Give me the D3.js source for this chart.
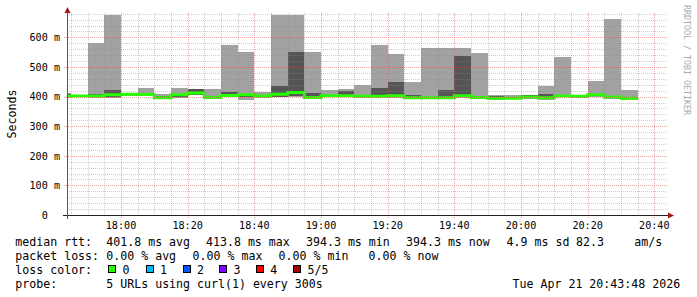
<!DOCTYPE html>
<html lang="en">
<head>
  <meta charset="UTF-8">
  <title>Smokeping median rtt</title>
  <script src="https://d3js.org/d3.v7.min.js"></script>
  <style>
    body { margin: 0; background: #fff; }
    text { font-family: "DejaVu Sans Mono", monospace; fill: #000; white-space: pre; }
  </style>
</head>
<body>
  <svg id="chart" width="697" height="297"></svg>

  <script>
    // 5 minute bins (start time) and the 5 sorted probe results, in ms
    const binStarts = ["17:40","17:45","17:50","17:55","18:00","18:05","18:10","18:15","18:20","18:25",
                       "18:30","18:35","18:40","18:45","18:50","18:55","19:00","19:05","19:10","19:15",
                       "19:20","19:25","19:30","19:35","19:40","19:45","19:50","19:55","20:00","20:05",
                       "20:10","20:15","20:20","20:25","20:30"];
    const medianMs = [401, 402, 402, 406, 408, 407, 396, 406, 412, 397.5, 404, 406, 402, 408, 413.8, 397, 402.5, 402.5, 401, 401,
                      402.5, 396, 396, 396, 402.5, 397, 394.3, 394.6, 398.6, 396, 402, 401, 406, 399, 394.3];
    const maxMs = [412, 405, 582, 676, 412, 429, 409, 429, 427, 426, 574, 551, 416, 676, 676, 551, 422, 426, 440, 574,
                   544, 449, 563, 563, 563, 547, 404, 405, 406, 436, 534, 403, 453, 662, 422];
    const highMs = [410, 404, 408, 422, 410, 409, 401, 408, 426, 400, 416, 408, 404, 436, 552, 413, 404, 418, 403, 429,
                    449, 406, 398, 422, 537, 399, 403, 397, 405, 409, 404, 403, 408, 401, 396];
    const lowMs = [398, 399, 399, 400, 405, 404, 394, 400, 407, 395, 400, 398, 399, 400, 402, 394, 399, 399, 398, 397,
                   398, 393, 393, 393, 397, 394, 392, 392, 395, 393, 399, 398, 402, 394, 392];
    const minMs = [396, 397, 395, 395, 403, 402, 392, 396, 404, 393, 397, 388, 396, 397, 398, 392, 397, 397, 396, 394,
                   396, 391, 391, 391, 394, 392, 390, 391, 393, 390, 397, 396, 400, 391, 390];

    const timeLabels = ["18:00","18:20","18:40","19:00","19:20","19:40","20:00","20:20","20:40"];
    const yLabels = [0, 100, 200, 300, 400, 500, 600];

    const rttStats = [["median rtt:", 16], ["401.8 ms avg", 107], ["413.8 ms max", 206.7], ["394.3 ms min", 306.7],
                      ["394.3 ms now", 406.7], ["4.9 ms sd", 507.3], ["82.3", 576.7], ["am/s", 635]];
    const lossStats = [["packet loss:", 16], ["0.00 % avg", 107], ["0.00 % max", 193.3], ["0.00 % min", 279.3], ["0.00 % now", 369.3]];
    const lossLabels = ["0", "1", "2", "3", "4", "5/5"];
    const lossColors = ["#26ff00", "#00b8ff", "#0059ff", "#7e00ff", "#ff0000", "#a10000"];
    const probeText = "5 URLs using curl(1) every 300s";
    const stampText = "Tue Apr 21 20:43:48 2026";

    const parseT = s => d3.timeParse("%Y-%m-%d %H:%M:%S")("2026-04-21 " + s + (s.length === 5 ? ":00" : ""));

    const plotL = 67, plotR = 667, plotT = 13, plotB = 215;
    const x = d3.scaleTime()
      .domain([parseT("17:43:48"), parseT("20:43:48")])
      .range([plotL, plotR]);
    const y = d3.scaleLinear()
      .domain([0, (plotB - plotT) / 0.296])
      .range([plotB, plotT]);

    const svg = d3.select("#chart");

    svg.append("defs").append("clipPath").attr("id", "plot")
      .append("rect").attr("x", plotL).attr("y", 0).attr("width", plotR - plotL).attr("height", plotB);

    const bins = binStarts.map((s, i) => {
      const t0 = parseT(s);
      return { t0: t0, t1: d3.timeMinute.offset(t0, 5), med: medianMs[i], max: maxMs[i],
               hi: highMs[i], lo: lowMs[i], min: minMs[i] };
    });

    const g = svg.append("g").attr("clip-path", "url(#plot)");

    // smoke: full range light, inner range dark
    g.selectAll("rect.outer").data(bins).join("rect")
      .attr("class", "outer")
      .attr("x", d => x(d.t0))
      .attr("width", d => x(d.t1) - x(d.t0))
      .attr("y", d => y(d.max))
      .attr("height", d => y(d.min) - y(d.max))
      .attr("fill", "#a2a2a2")
      .attr("shape-rendering", "crispEdges");

    g.selectAll("rect.inner").data(bins).join("rect")
      .attr("class", "inner")
      .attr("x", d => x(d.t0))
      .attr("width", d => x(d.t1) - x(d.t0))
      .attr("y", d => y(d.hi))
      .attr("height", d => y(d.lo) - y(d.hi))
      .attr("fill", "#555555")
      .attr("shape-rendering", "crispEdges");

    // median line
    const pts = bins.map(d => [d.t0, d.med]);
    pts.push([bins[bins.length - 1].t1, bins[bins.length - 1].med]);
    g.append("path")
      .datum(pts)
      .attr("fill", "none")
      .attr("stroke", lossColors[0])
      .attr("stroke-width", 3)
      .attr("d", d3.line().x(d => x(d[0])).y(d => y(d[1])).curve(d3.curveStepAfter));

    // grid on top
    const grid = svg.append("g").attr("stroke-dasharray", "1,1").attr("shape-rendering", "crispEdges");
    const minorY = d3.range(20, 681, 20).filter(v => v % 100 !== 0);
    grid.selectAll("line.hmin").data(minorY).join("line")
      .attr("class", "hmin")
      .attr("x1", plotL).attr("x2", plotR)
      .attr("y1", d => Math.round(y(d)) + 0.5).attr("y2", d => Math.round(y(d)) + 0.5)
      .attr("stroke", "rgba(143,143,143,0.45)");
    const minorX = d3.timeMinute.every(5).range(x.domain()[0], x.domain()[1])
      .filter(t => t.getMinutes() % 20 !== 0);
    grid.selectAll("line.vmin").data(minorX).join("line")
      .attr("class", "vmin")
      .attr("x1", d => Math.round(x(d)) + 0.5).attr("x2", d => Math.round(x(d)) + 0.5)
      .attr("y1", plotT).attr("y2", plotB + 2)
      .attr("stroke", "rgba(143,143,143,0.45)");
    grid.selectAll("line.hmaj").data(yLabels.slice(1)).join("line")
      .attr("class", "hmaj")
      .attr("x1", plotL - 3).attr("x2", plotR)
      .attr("y1", d => Math.round(y(d)) + 0.5).attr("y2", d => Math.round(y(d)) + 0.5)
      .attr("stroke", "rgba(222,80,80,0.5)");
    grid.selectAll("line.vmaj").data(timeLabels.map(parseT)).join("line")
      .attr("class", "vmaj")
      .attr("x1", d => Math.round(x(d)) + 0.5).attr("x2", d => Math.round(x(d)) + 0.5)
      .attr("y1", plotT).attr("y2", plotB + 3)
      .attr("stroke", "rgba(222,80,80,0.5)");

    // axes
    svg.append("line").attr("x1", plotL - 4).attr("x2", plotR + 2)
      .attr("y1", plotB + 0.5).attr("y2", plotB + 0.5).attr("stroke", "#222");
    svg.append("line").attr("x1", plotL + 0.5).attr("x2", plotL + 0.5)
      .attr("y1", plotB + 4).attr("y2", plotT - 2).attr("stroke", "#555");
    svg.append("path").attr("d", `M${plotR + 1},${plotB - 2.5}L${plotR + 7},${plotB + 0.5}L${plotR + 1},${plotB + 3.5}Z`)
      .attr("fill", "#a01818");
    svg.append("path").attr("d", `M${plotL - 2.5},${plotT}L${plotL + 0.5},${plotT - 6}L${plotL + 3.5},${plotT}Z`)
      .attr("fill", "#a01818");

    svg.selectAll("text.xl").data(timeLabels).join("text")
      .attr("class", "xl")
      .attr("x", d => x(parseT(d)))
      .attr("y", 228.7)
      .attr("text-anchor", "middle")
      .style("font-size", "10.15px")
      .text(d => d);

    svg.selectAll("text.yl").data(yLabels).join("text")
      .attr("class", "yl")
      .attr("x", d => d === 0 ? 60 - 2 * 6.11 : 60)
      .attr("y", d => y(d) + 3.7)
      .attr("text-anchor", "end")
      .style("font-size", "10.15px")
      .text(d => d === 0 ? "0" : d + " m");

    svg.append("text")
      .attr("transform", "translate(16,114) rotate(-90)")
      .attr("text-anchor", "middle")
      .style("font-size", "11.6px")
      .text("Seconds");

    svg.append("text")
      .attr("transform", "translate(684,5) rotate(90)")
      .style("font-size", "8.3px")
      .style("fill", "#aaaaaa")
      .text("RRDTOOL / TOBI OETIKER");

    // legend
    const fs = "11.6px";
    svg.selectAll("text.l1").data(rttStats).join("text")
      .attr("class", "l1")
      .attr("x", d => d[1] - 0.7).attr("y", 245.5).style("font-size", fs).text(d => d[0]);
    svg.selectAll("text.l2").data(lossStats).join("text")
      .attr("class", "l2")
      .attr("x", d => d[1] - 0.7).attr("y", 259.5).style("font-size", fs).text(d => d[0]);
    svg.append("text").attr("x", 15.3).attr("y", 273.5).style("font-size", fs).text("loss color:");
    const boxX = [108.3, 145.7, 182.7, 219.3, 256, 293.3];
    lossLabels.forEach((lab, i) => {
      svg.append("rect")
        .attr("x", Math.round(boxX[i]) + 0.5).attr("y", 265.5)
        .attr("width", 7).attr("height", 7)
        .attr("fill", lossColors[i]).attr("stroke", "#000");
      svg.append("text")
        .attr("x", boxX[i] + 14.3).attr("y", 273.5).style("font-size", fs).text(lab);
    });
    svg.append("text").attr("x", 15.3).attr("y", 287.5).style("font-size", fs).text("probe:");
    svg.append("text").attr("x", 106.3).attr("y", 287.5).style("font-size", fs).text(probeText);
    svg.append("text").attr("x", 512.6).attr("y", 287.5).style("font-size", fs).text(stampText);
  </script>
</body>
</html>
